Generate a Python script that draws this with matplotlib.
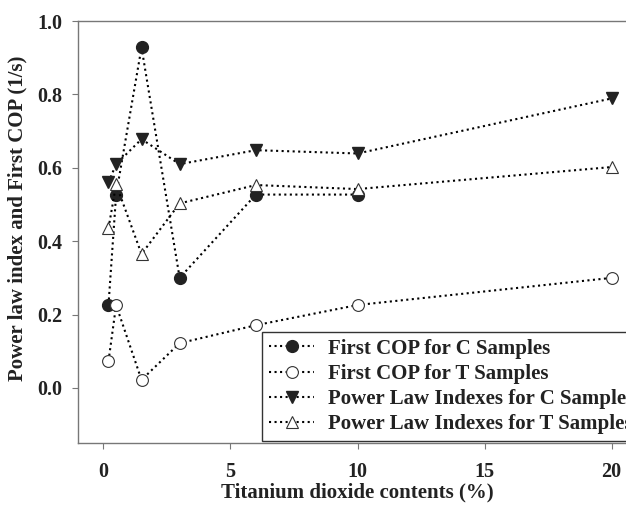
import numpy as np
import matplotlib.pyplot as plt

plt.rcParams['font.family'] = ['Liberation Serif', 'DejaVu Serif']
plt.rcParams['font.weight'] = 'bold'

# data
x_c_cop = [0.2, 0.5, 1.5, 3, 6, 10]
cop_c = [0.226, 0.527, 0.928, 0.300, 0.527, 0.527]
x_t = [0.2, 0.5, 1.5, 3, 6, 10, 20]
cop_t = [0.073, 0.226, 0.022, 0.122, 0.171, 0.226, 0.300]
pli_c = [0.560, 0.610, 0.678, 0.610, 0.648, 0.639, 0.789]
pli_t = [0.435, 0.555, 0.365, 0.503, 0.553, 0.542, 0.602]

labels = ['First COP for C Samples', 'First COP for T Samples',
          'Power Law Indexes for C Samples', 'Power Law Indexes for T Samples']

fig = plt.figure(figsize=(6.26, 5.09), dpi=100)
ax = fig.add_axes([0.1246, 0.1297, 0.893, 0.829])

ms = 8.5
ls = dict(color='black', linestyle=':', linewidth=1.5)
ax.plot(x_c_cop, cop_c, marker='o', markersize=ms, markerfacecolor='#222222',
        markeredgecolor='#222222', label=labels[0], **ls)
ax.plot(x_t, cop_t, marker='o', markersize=ms, markerfacecolor='white',
        markeredgecolor='#333333', markeredgewidth=0.8, label=labels[1], **ls)
ax.plot(x_t, pli_c, marker='v', markersize=ms + 0.5, markerfacecolor='#222222',
        markeredgecolor='#222222', label=labels[2], **ls)
ax.plot(x_t, pli_t, marker='^', markersize=ms + 0.5, markerfacecolor='white',
        markeredgecolor='#333333', markeredgewidth=0.8, label=labels[3], **ls)

ax.set_xlim(-1, 21)
ax.set_ylim(-0.15, 1.0)
ax.set_xticks([0, 5, 10, 15, 20])
ax.set_yticks([0.0, 0.2, 0.4, 0.6, 0.8, 1.0])
ax.set_yticklabels(['0.0', '0.2', '0.4', '0.6', '0.8', '1.0'])
ax.tick_params(direction='out', length=4, width=0.8, colors='#777777',
               labelcolor='#222222', labelsize=14.5)
ax.tick_params(axis='x', pad=9.5)
ax.tick_params(axis='y', pad=7)
for s in ax.spines.values():
    s.set_color('#777777')
    s.set_linewidth(1.0)

ax.set_xlabel('Titanium dioxide contents (%)', fontsize=15, fontweight='bold',
              color='#222222', va='center')
ax.set_ylabel('Power law index and First COP (1/s)', fontsize=15,
              fontweight='bold', color='#222222', va='center')
ax.xaxis.set_label_coords(0.5, -0.118)
ax.yaxis.set_label_coords(-0.109, 0.533)

leg = ax.legend(loc='upper left', bbox_to_anchor=(0.4185, 0.3477),
                bbox_transform=fig.transFigure, fontsize=15, frameon=True,
                fancybox=False, edgecolor='black', handlelength=2.2,
                handletextpad=0.65, borderpad=0.32, labelspacing=0.25,
                borderaxespad=0)
leg.get_frame().set_linewidth(1.0)
for t in leg.get_texts():
    t.set_color('#222222')

fig.savefig('out.png', dpi=100)
